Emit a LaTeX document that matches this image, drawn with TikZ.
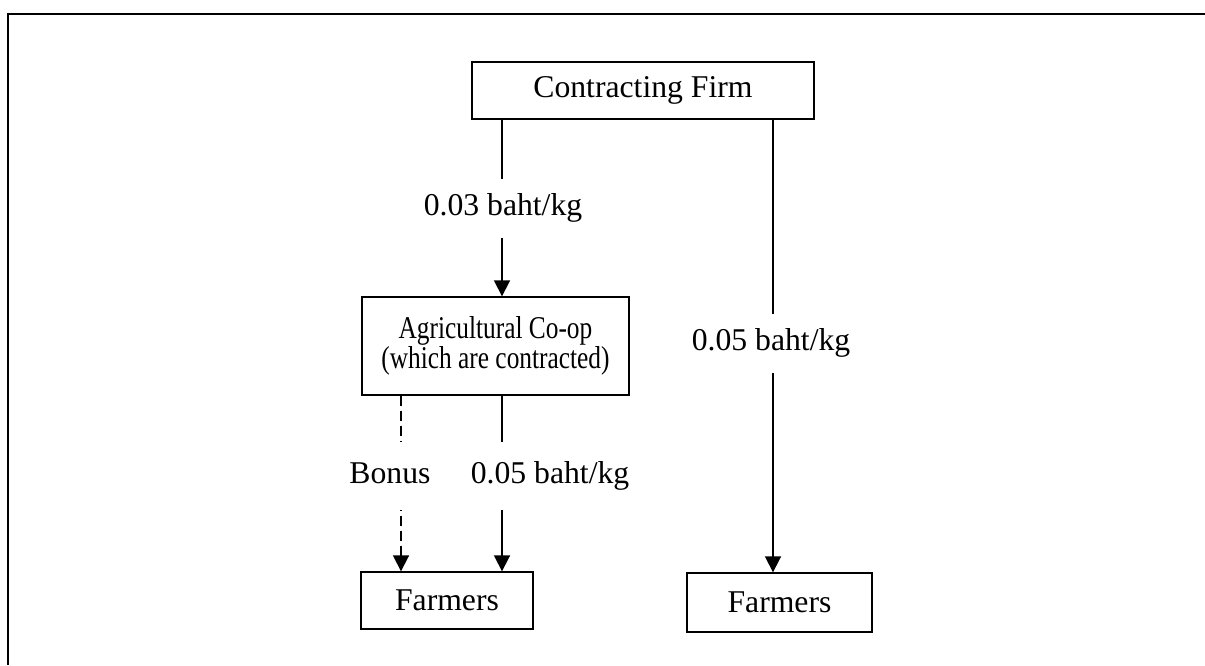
\documentclass[tikz,border=0pt]{standalone}
\usepackage{fontspec}
\setmainfont{Liberation Serif}
\newfontfamily\narrowserif[FakeStretch=0.8]{Liberation Serif}
\usetikzlibrary{arrows.meta}
\begin{document}
\begin{tikzpicture}[x=1pt,y=-1pt,
  bigtext/.style={font=\fontsize{31.7}{36}\selectfont},
  box/.style={draw, line width=1.4pt, inner sep=0pt, bigtext},
  flow/.style={line width=1.8pt, -{Triangle[width=16pt,length=16pt]}},
  bonusflow/.style={flow, dash pattern=on 10pt off 5pt},
  rate/.style={fill=white, inner xsep=2pt, inner ysep=0pt, bigtext,
    text height=21pt, text depth=7pt}]
  \useasboundingbox (0,0) rectangle (1205,665);
  % open frame: top and left edges only
  \draw[line width=2.6pt] (8,665) -- (8,14) -- (1205,14);

  % boxes
  \node[box, minimum width=342pt, minimum height=57pt] (firm) at (643,90.5) {Contracting Firm};
  \node[box, minimum width=267pt, minimum height=98pt, align=center,
        font=\narrowserif\fontsize{31.7}{30}\selectfont] (coop) at (495.5,346)
        {Agricultural Co-op\\(which are contracted)};
  \node[box, minimum width=172pt, minimum height=57pt] (farmA) at (447,600.5) {Farmers};
  \node[box, minimum width=185pt, minimum height=59pt] (farmB) at (779.5,602.5) {Farmers};

  % connectors
  \draw[flow] (firm.south -| 502,0) -- (coop.north -| 502,0);
  \draw[flow] (firm.south -| 773,0) -- (farmB.north -| 773,0);
  \draw[bonusflow] (coop.south -| 401,0) -- (farmA.north -| 401,0);
  \draw[flow] (coop.south -| 502,0) -- (farmA.north -| 502,0);

  % payment labels laid over the connectors
  \node[rate, minimum height=59pt] (r1) at (503,208) {0.03 baht/kg};
  \node[rate, minimum height=59pt] (r2) at (771,343.5) {0.05 baht/kg};
  \node[rate, minimum height=68pt] (r3) at (390,476) {Bonus};
  \node[rate, minimum height=68pt] (r4) at (550,476) {0.05 baht/kg};
\end{tikzpicture}
\end{document}
